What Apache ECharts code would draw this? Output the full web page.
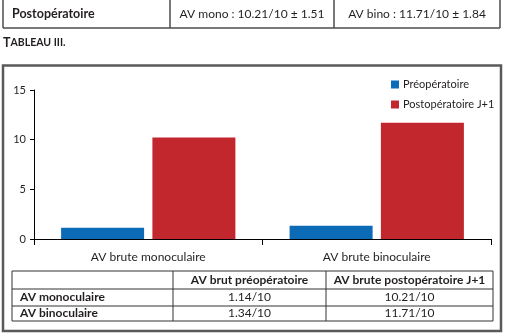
<!DOCTYPE html>
<html><head><meta charset="utf-8">
<script src="https://cdn.jsdelivr.net/npm/echarts@6/dist/echarts.min.js"></script>
<style>html,body{margin:0;padding:0;background:#fff}#c{width:507px;height:336px}</style>
</head><body><div id="c"></div>
<script>
const categories = ['AV brute monoculaire', 'AV brute binoculaire'];
const seriesNames = ['Préopératoire', 'Postopératoire J+1'];
const preop = [1.14, 1.34];
const postop = [10.21, 11.71];
const postopSd = [1.51, 1.84];
const yMin = 0, yMax = 15, yStep = 5;
const topRowLabel = 'Postopératoire';
const topPrefixes = ['AV mono', 'AV bino'];
const tableTitle = 'Tableau III.';
const tableRowLabels = ['AV monoculaire', 'AV binoculaire'];
const tableColHeaders = ['AV brut préopératoire', 'AV brute postopératoire J+1'];

const FONT = 'Lato';
const LINE = '#4d4d4f';
const TXT = '#231f20';
const BLUE = '#0b6bb6';
const RED = '#c1272d';

const fmt = v => v.toFixed(2) + '/10';

const g = [];
function line(x1, y1, x2, y2, w, c) {
  g.push({type: 'line', shape: {x1, y1, x2, y2}, style: {stroke: c || LINE, lineWidth: w || 1}, silent: true});
}
function text(x, y, t, opt) {
  g.push({type: 'text', x, y, style: Object.assign({text: t, fontFamily: FONT, fontSize: 12, fill: TXT, textAlign: 'left', textVerticalAlign: 'middle'}, opt || {}), silent: true});
}

// top table row
[3, 170, 334, 500].forEach(x => line(x, 0, x, 28, 1.5));
line(3, 28, 500, 28, 1.5);
text(12, 14, topRowLabel, {fontWeight: 'bold', fontSize: 12.5});
text(252, 14, topPrefixes[0] + ' : ' + fmt(postop[0]) + ' ± ' + postopSd[0].toFixed(2), {textAlign: 'center', fontSize: 12});
text(417, 14, topPrefixes[1] + ' : ' + fmt(postop[1]) + ' ± ' + postopSd[1].toFixed(2), {textAlign: 'center', fontSize: 12});

// caption in small caps
g.push({type: 'text', x: 3, y: 43, silent: true, style: {
  text: '{a|' + tableTitle.charAt(0).toUpperCase() + '}{b|' + tableTitle.slice(1).toUpperCase() + '}',
  textVerticalAlign: 'middle',
  rich: {a: {fontFamily: FONT, fontSize: 12.5, fontWeight: 'bold', fill: TXT},
         b: {fontFamily: FONT, fontSize: 10.5, fontWeight: 'bold', fill: TXT}}
}});

// chart frame
g.push({type: 'rect', shape: {x: 3, y: 65.5, width: 498, height: 265.5}, style: {fill: 'none', stroke: '#58595b', lineWidth: 2.5}, silent: true});

// bottom table
g.push({type: 'rect', shape: {x: 12, y: 271, width: 481, height: 50}, style: {fill: 'none', stroke: '#333', lineWidth: 1}, silent: true});
line(12, 289, 493, 289, 1, '#333');
line(12, 306, 493, 306, 1, '#333');
line(173, 271, 173, 321, 1, '#333');
line(326, 271, 326, 321, 1, '#333');
text(249.5, 280, tableColHeaders[0], {textAlign: 'center', fontWeight: 'bold'});
text(409.5, 280, tableColHeaders[1], {textAlign: 'center', fontWeight: 'bold'});
const rowY = [297.5, 313.5];
tableRowLabels.forEach((r, i) => {
  text(20, rowY[i], r, {fontWeight: 'bold'});
  text(249.5, rowY[i], fmt(preop[i]), {textAlign: 'center'});
  text(409.5, rowY[i], fmt(postop[i]), {textAlign: 'center'});
});

const chart = echarts.init(document.getElementById('c'), null, {renderer: 'canvas'});
chart.setOption({
  animation: false,
  backgroundColor: '#fff',
  textStyle: {fontFamily: FONT},
  grid: {left: 34, right: 16, top: 90, bottom: 97},
  legend: {
    orient: 'vertical', left: 386, top: 74,
    itemWidth: 8, itemHeight: 8, itemGap: 9,
    icon: 'rect',
    textStyle: {fontFamily: FONT, fontSize: 11, color: TXT, padding: [0, 0, 0, -1]},
    data: seriesNames
  },
  xAxis: {
    type: 'category', data: categories,
    axisLine: {lineStyle: {color: '#000', width: 1}},
    axisTick: {show: true, length: 6, lineStyle: {color: '#000'}},
    axisLabel: {fontFamily: FONT, fontSize: 12, color: TXT, margin: 12}
  },
  yAxis: {
    type: 'value', min: yMin, max: yMax, interval: yStep,
    splitLine: {show: false},
    axisLine: {show: true, lineStyle: {color: '#000', width: 1}},
    axisTick: {show: true, length: 4, lineStyle: {color: '#000'}},
    axisLabel: {fontFamily: FONT, fontSize: 11, color: TXT, margin: 8}
  },
  series: [
    {name: seriesNames[0], type: 'bar', data: preop, barWidth: 83, barGap: '10%', itemStyle: {color: BLUE}},
    {name: seriesNames[1], type: 'bar', data: postop, barWidth: 83, barGap: '10%', itemStyle: {color: RED}}
  ],
  graphic: g
});
</script></body></html>
